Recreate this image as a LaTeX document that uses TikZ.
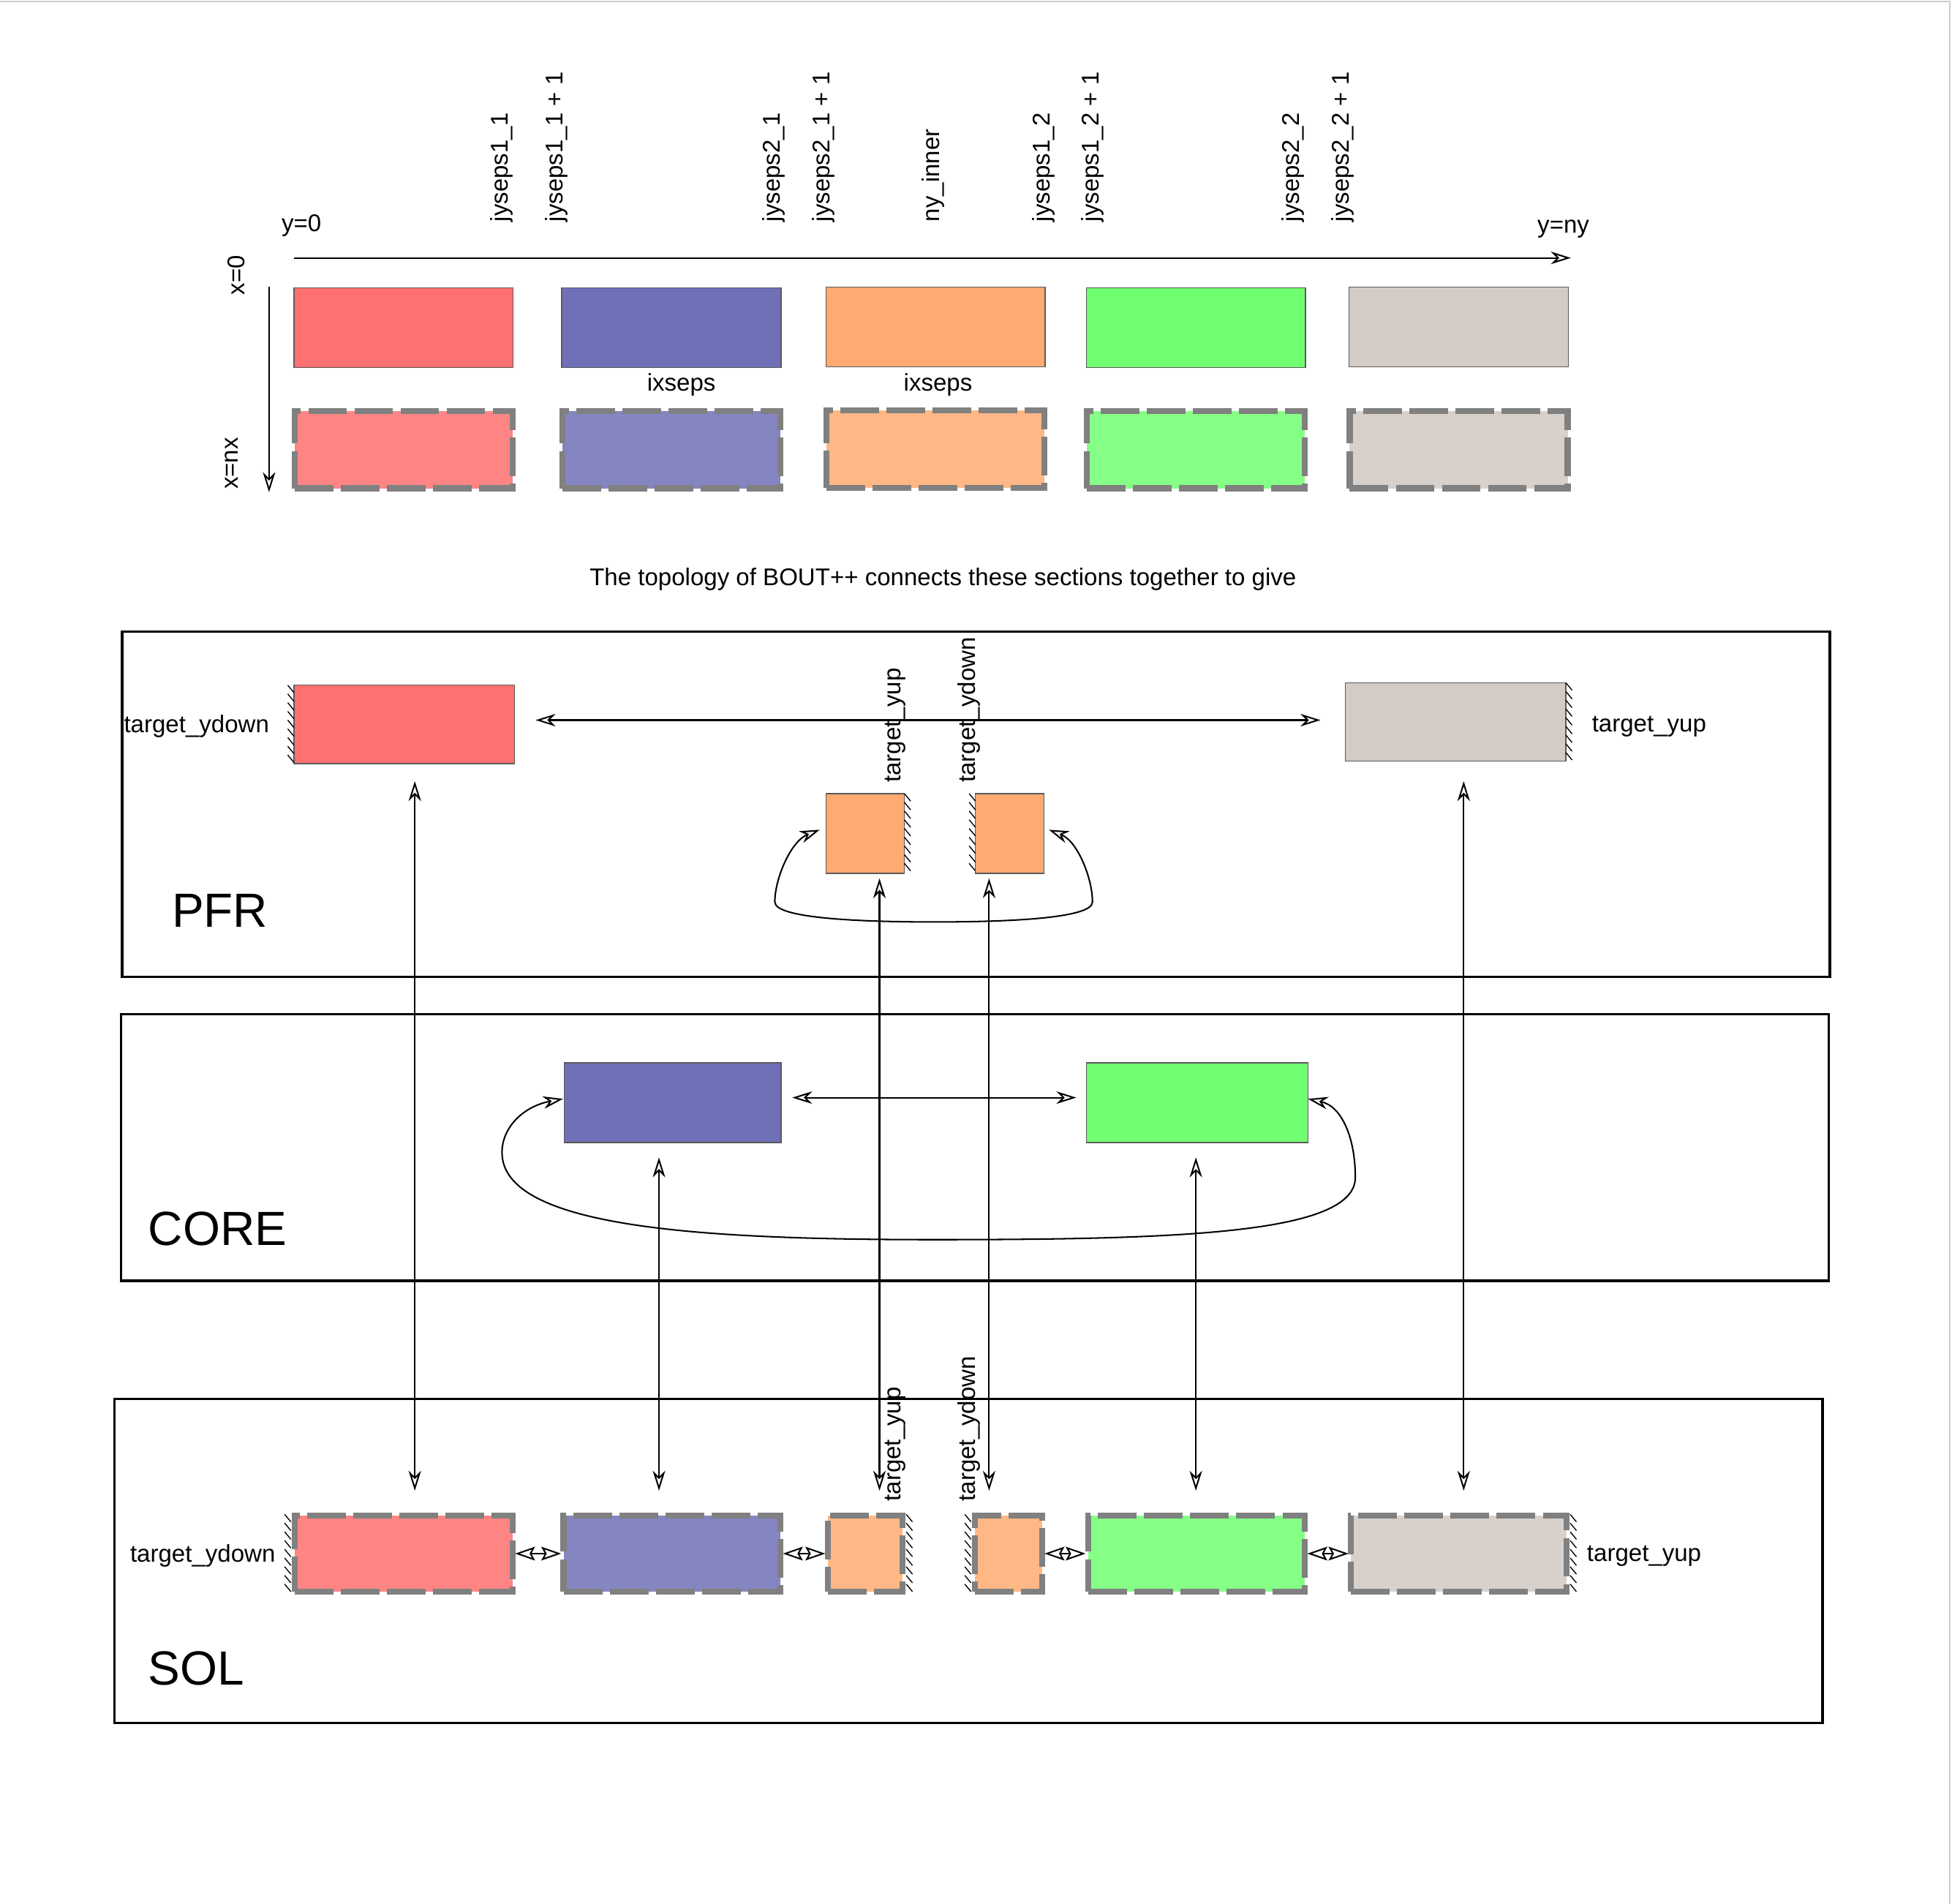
\documentclass[tikz,border=0pt]{standalone}
\usepackage{fontspec}
\setmainfont{Liberation Sans}
\usetikzlibrary{arrows.meta,calc}
\definecolor{cRedA}{RGB}{255,112,112}
\definecolor{cRedB}{RGB}{255,133,133}
\definecolor{cBluA}{RGB}{112,112,184}
\definecolor{cBluB}{RGB}{133,133,194}
\definecolor{cOraA}{RGB}{255,170,112}
\definecolor{cOraB}{RGB}{255,184,133}
\definecolor{cGreA}{RGB}{112,255,112}
\definecolor{cGreB}{RGB}{133,255,133}
\definecolor{cGryA}{RGB}{211,203,197}
\definecolor{cGryB}{RGB}{216,208,203}
\definecolor{boxline}{RGB}{90,90,90}
\definecolor{dashgray}{RGB}{128,128,128}
\definecolor{pageline}{RGB}{205,205,205}
\tikzset{
  solidbox/.style={rectangle, inner sep=0pt, outer sep=0pt, draw=boxline, line width=0.8pt},
  dashbox/.style={rectangle, inner sep=0pt, outer sep=0pt, draw=dashgray, line width=5pt, dash pattern=on 31pt off 6pt},
  lbl/.style={inner sep=0pt, outer sep=0pt, font=\fontsize{19.4}{23}\selectfont},
  biglbl/.style={inner sep=0pt, outer sep=0pt, font=\fontsize{38.5}{46}\selectfont},
  regionframe/.style={draw=black, line width=2pt},
  conn/.style={line width=1.2pt, <->, >={Stealth[open, length=16pt, width=10pt, inset=5pt]}},
  oneway/.style={line width=1.2pt, ->, >={Stealth[open, length=16pt, width=10pt, inset=5pt]}},
  diam/.style={line width=1.2pt, <->, >={Stealth[open, length=16pt, width=11pt, inset=3pt]}, shorten <=2pt, shorten >=2pt},
  hatchline/.style={line width=0.8pt, black}
}
\begin{document}
\begin{tikzpicture}[x=1pt, y=-1pt]
\useasboundingbox (0,0) rectangle (1567,1528.25);
% page border lines
\draw[pageline, line width=1.2pt] (0,1) -- (1565,1) -- (1565,1528.25);

% ---------- top diagram ----------
\node[lbl] (y0) at (242,181) {y=0};
\node[lbl] (yny) at (1255,184) {y=ny};
\node[lbl, rotate=90] (x0) at (190,221) {x=0};
\node[lbl, rotate=90] (xnx) at (186,372) {x=nx};
\coordinate (yaxS) at (236,207);
\coordinate (yaxE) at (1261,207);
\coordinate (xaxS) at (216,230);
\coordinate (xaxE) at (216,395);
\draw[oneway] (yaxS) -- (yaxE);
\draw[oneway] (xaxS) -- (xaxE);

\foreach \nm/\xx/\txt in {j1/403/{jyseps1\_1}, j2/447/{jyseps1\_1 + 1}, j3/621/{jyseps2\_1}, j4/661/{jyseps2\_1 + 1}, j5/749/{ny\_inner}, j6/838/{jyseps1\_2}, j7/877/{jyseps1\_2 + 1}, j8/1038/{jyseps2\_2}, j9/1078/{jyseps2\_2 + 1}}
  \node[lbl, rotate=90, anchor=west] (\nm) at (\xx,178) {\txt};

\node[solidbox, fill=cRedA, minimum width=176pt, minimum height=64pt] (tRed) at (324,263) {};
\node[solidbox, fill=cBluA, minimum width=176pt, minimum height=64pt] (tBlu) at (539,263) {};
\node[solidbox, fill=cOraA, minimum width=176pt, minimum height=64pt] (tOra) at (751,262.5) {};
\node[solidbox, fill=cGreA, minimum width=176pt, minimum height=64pt] (tGre) at (960,263) {};
\node[solidbox, fill=cGryA, minimum width=176pt, minimum height=64pt] (tGry) at (1171,262.5) {};

\node[dashbox, fill=cRedB, minimum width=175pt, minimum height=62pt] (bRed) at (324,361) {};
\node[dashbox, fill=cBluB, minimum width=175pt, minimum height=62pt] (bBlu) at (539,361) {};
\node[dashbox, fill=cOraB, minimum width=175pt, minimum height=62pt] (bOra) at (751,360.5) {};
\node[dashbox, fill=cGreB, minimum width=175pt, minimum height=62pt] (bGre) at (960,361) {};
\node[dashbox, fill=cGryB, minimum width=175pt, minimum height=62pt] (bGry) at (1171,361) {};

\node[lbl] (ix1) at (547,309) {ixseps};
\node[lbl] (ix2) at (753,309) {ixseps};

\node[lbl] (caption) at (757,465) {The topology of BOUT++ connects these sections together to give};

% ---------- frames ----------
\node[regionframe, rectangle, inner sep=0pt, outer sep=0pt, minimum width=1371pt, minimum height=277pt] (pfr) at (783.5,645.5) {};
\node[regionframe, rectangle, inner sep=0pt, outer sep=0pt, minimum width=1371pt, minimum height=214pt] (core) at (782.5,921) {};
\node[regionframe, rectangle, inner sep=0pt, outer sep=0pt, minimum width=1371pt, minimum height=260pt] (sol) at (777.5,1253) {};

\node[biglbl, anchor=west] (pfrlbl) at (138,731) {PFR};
\node[biglbl, anchor=west] (corelbl) at (119,986) {CORE};
\node[biglbl, anchor=west] (sollbl) at (119,1339) {SOL};

% ---------- PFR ----------
\node[solidbox, fill=cRedA, minimum width=177pt, minimum height=63pt] (pRed) at (324.5,581.5) {};
\node[solidbox, fill=cGryA, minimum width=177pt, minimum height=63pt] (pGry) at (1168.5,579.5) {};
\node[solidbox, fill=cOraA, minimum width=63pt, minimum height=64pt] (pOrL) at (694.5,669) {};
\node[solidbox, fill=cOraA, minimum width=55pt, minimum height=64pt] (pOrR) at (810.5,669) {};

\node[lbl, anchor=east] (pTyd) at (216,583) {target\_ydown};
\node[lbl, anchor=west] (pTyu) at (1278,583) {target\_yup};
\node[lbl, rotate=90, anchor=west] (pRyu) at (719,628) {target\_yup};
\node[lbl, rotate=90, anchor=west] (pRyd) at (778,628) {target\_ydown};

\foreach \i in {0,...,8} {
  \draw[hatchline] ($(pRed.north west)+(-5,\i*7)$) -- ++(5,6);
  \draw[hatchline] ($(pGry.north east)+(0,\i*7)$) -- ++(5,6);
  \draw[hatchline] ($(pOrL.north east)+(0,\i*7)$) -- ++(5,6);
  \draw[hatchline] ($(pOrR.north west)+(-5,\i*7)$) -- ++(5,6);
}

\draw[conn, shorten <=17pt, shorten >=20pt] ([yshift=3.5pt]pRed.east) -- ([yshift=1.5pt]pGry.west);
\draw[conn] ([xshift=-5pt,yshift=3pt]pOrL.west) .. controls (635,675) and (622,705) .. (622,724)
   .. controls (622,738) and (700,740) .. (750,740)
   .. controls (800,740) and (877,738) .. (877,724)
   .. controls (877,705) and (865,675) .. ([xshift=4pt,yshift=3pt]pOrR.east);

% ---------- CORE ----------
\node[solidbox, fill=cBluA, minimum width=174pt, minimum height=64pt] (cBlu) at (540,885) {};
\node[solidbox, fill=cGreA, minimum width=178pt, minimum height=64pt] (cGre) at (961,885) {};
\draw[conn, shorten <=9pt, shorten >=8pt] ([yshift=4pt]cBlu.east) -- ([yshift=4pt]cGre.west);
\draw[conn] ([xshift=-1pt,yshift=3pt]cBlu.west) .. controls (420,888) and (403,905) .. (403,925)
   .. controls (403,985) and (560,995) .. (750,995)
   .. controls (950,995) and (1088,990) .. (1088,945)
   .. controls (1088,915) and (1078,888) .. ([yshift=3pt]cGre.east);

% ---------- SOL ----------
\node[dashbox, fill=cRedB, minimum width=175pt, minimum height=61pt] (sRed) at (324,1247) {};
\node[dashbox, fill=cBluB, minimum width=174pt, minimum height=61pt] (sBlu) at (539.5,1247) {};
\node[dashbox, fill=cOraB, minimum width=60pt, minimum height=61pt] (sOrL) at (694.5,1247) {};
\node[dashbox, fill=cOraB, minimum width=54pt, minimum height=61pt] (sOrR) at (809.5,1247) {};
\node[dashbox, fill=cGreB, minimum width=174pt, minimum height=61pt] (sGre) at (960.5,1247) {};
\node[dashbox, fill=cGryB, minimum width=173pt, minimum height=61pt] (sGry) at (1171,1247) {};

\node[lbl, anchor=east] (sTyd) at (221,1249) {target\_ydown};
\node[lbl, anchor=west] (sTyu) at (1274,1249) {target\_yup};
\node[lbl, rotate=90, anchor=west] (sRyu) at (719,1205) {target\_yup};
\node[lbl, rotate=90, anchor=west] (sRyd) at (778,1205) {target\_ydown};

\foreach \i in {0,...,8} {
  \draw[hatchline] ($(sRed.north west)+(-8,{\i*7-1})$) -- ++(5,6);
  \draw[hatchline] ($(sGry.north east)+(3,{\i*7-1})$) -- ++(5,6);
  \draw[hatchline] ($(sOrL.north east)+(3,{\i*7-1})$) -- ++(5,6);
  \draw[hatchline] ($(sOrR.north west)+(-8,{\i*7-1})$) -- ++(5,6);
}

\draw[diam] (sRed.east) -- (sBlu.west);
\draw[diam] (sBlu.east) -- (sOrL.west);
\draw[diam] (sOrR.east) -- (sGre.west);
\draw[diam] (sGre.east) -- (sGry.west);

% ---------- vertical links ----------
\coordinate (v1) at ([xshift=8.5pt]pRed.south);
\coordinate (v2) at ([xshift=-11pt]cBlu.south);
\coordinate (v3) at ([xshift=11.5pt]pOrL.south);
\coordinate (v4) at ([xshift=-16.5pt]pOrR.south);
\coordinate (v5) at ([xshift=-1pt]cGre.south);
\coordinate (v6) at ([xshift=6.5pt]pGry.south);
\draw[conn, shorten <=14pt, shorten >=20pt] (v1) -- (v1 |- sRed.north);
\draw[conn, shorten <=12pt, shorten >=20pt] (v2) -- (v2 |- sBlu.north);
\draw[conn, shorten <=4pt, shorten >=20pt] (v3) -- (v3 |- sOrL.north);
\draw[conn, shorten <=4pt, shorten >=20pt] (v4) -- (v4 |- sOrR.north);
\draw[conn, shorten <=12pt, shorten >=20pt] (v5) -- (v5 |- sGre.north);
\draw[conn, shorten <=16pt, shorten >=20pt] (v6) -- (v6 |- sGry.north);
\end{tikzpicture}
\end{document}
